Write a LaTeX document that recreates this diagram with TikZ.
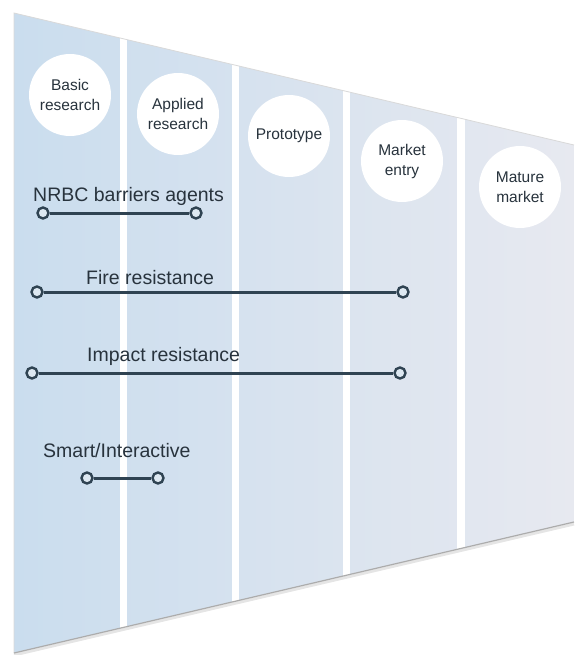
\documentclass[tikz,border=0pt]{standalone}
\usepackage{fontspec}
\setmainfont{Liberation Sans}
\definecolor{bandleft}{HTML}{CADDEE}
\definecolor{bandright}{HTML}{E7E9F0}
\definecolor{inktext}{HTML}{28333D}
\definecolor{inkline}{HTML}{2F4352}
\definecolor{dotfill}{HTML}{DDE8F1}
\tikzset{
    stage/.style={circle, fill=white, minimum size=82pt, inner sep=0pt,
        align=center, text=inktext, font=\fontsize{15.5}{20}\selectfont},
    techlabel/.style={anchor=base west, inner sep=0pt, text=inktext,
        font=\fontsize{19.5}{23}\selectfont},
    enddot/.style={circle, draw=inkline, fill=dotfill, line width=2.4pt,
        minimum size=11pt, inner sep=0pt},
    span/.style={draw=inkline, line width=3pt}
}
\begin{document}
\begin{tikzpicture}[x=1pt, y=-1pt]

    \useasboundingbox (0, 0) rectangle (574, 655);

    % funnel body
    \shade[left color=bandleft, right color=bandright]
        (14, 13) -- (574, 145) -- (574, 522) -- (14, 653) -- cycle;
    \begin{scope}
        \clip (14, 13) -- (574, 145) -- (574, 522) -- (14, 653) -- cycle;
        \fill[white] (120, 0) rectangle (127, 655);
        \fill[white] (232, 0) rectangle (239, 655);
        \fill[white] (343, 0) rectangle (350, 655);
        \fill[white] (457, 0) rectangle (465, 655);
    \end{scope}
    \draw[gray!30, line width=0.8pt] (14, 653) -- (14, 13) -- (574, 145);
    \draw[gray!20, line width=3pt] (14, 655) -- (574, 524);
    \draw[gray!65, line width=1.2pt] (14, 653) -- (574, 522);

    % stages
    \node[stage] (basic) at (70, 95) {Basic\\research};
    \node[stage] (applied) at (178, 114) {Applied\\research};
    \node[stage] (proto) at (289, 136) {Prototype};
    \node[stage] (entry) at (402, 161) {Market\\entry};
    \node[stage] (mature) at (520, 187) {Mature\\market};

    % technologies
    \node[techlabel] (nrbc) at (33, 201) {NRBC barriers agents};
    \node[enddot] (nrbcA) at (43, 213) {};
    \node[enddot] (nrbcB) at (196, 213) {};
    \draw[span] (nrbcA) -- (nrbcB);

    \node[techlabel] (fire) at (86, 284) {Fire resistance};
    \node[enddot] (fireA) at (37, 292) {};
    \node[enddot] (fireB) at (403, 292) {};
    \draw[span] (fireA) -- (fireB);

    \node[techlabel] (impact) at (87, 361) {Impact resistance};
    \node[enddot] (impactA) at (32, 373) {};
    \node[enddot] (impactB) at (400, 373) {};
    \draw[span] (impactA) -- (impactB);

    \node[techlabel] (smart) at (43, 457) {Smart/Interactive};
    \node[enddot] (smartA) at (87, 478) {};
    \node[enddot] (smartB) at (158, 478) {};
    \draw[span] (smartA) -- (smartB);

\end{tikzpicture}
\end{document}
